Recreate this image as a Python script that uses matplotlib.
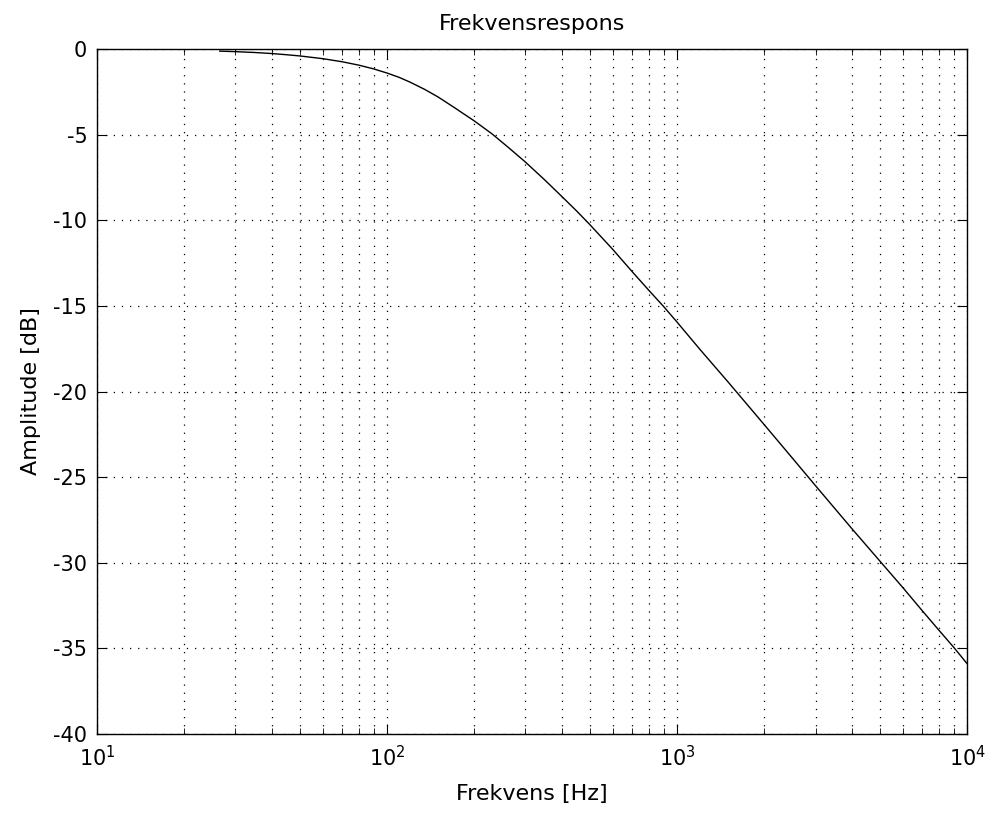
import matplotlib
matplotlib.use('Agg')
import matplotlib.pyplot as plt
import numpy as np

# frequency response
freq = [26.5, 30, 35, 40, 45, 50, 60, 70, 80, 90, 100, 110, 120, 135, 150, 170,
        200, 230, 260, 300, 350, 400, 450, 500, 600, 700, 800, 900, 1000, 1200,
        1500, 2000, 2500, 3000, 4000, 5000, 6000, 7000, 8000, 9000, 10000]
amp_db = [-0.12, -0.15, -0.2, -0.26, -0.33, -0.4, -0.56, -0.74, -0.94, -1.16,
          -1.4, -1.65, -1.93, -2.36, -2.8, -3.4, -4.2, -4.95, -5.7, -6.6, -7.65,
          -8.6, -9.45, -10.25, -11.7, -13.0, -14.1, -15.05, -15.95, -17.55, -19.45,
          -21.95, -23.9, -25.5, -28.0, -29.9, -31.45, -32.8, -33.95, -34.95, -35.9]
yticks = [-40, -35, -30, -25, -20, -15, -10, -5, 0]

plt.rcParams['font.family'] = ['DejaVu Sans']
plt.rcParams['axes.unicode_minus'] = False

fig = plt.figure(figsize=(9.93, 8.18), dpi=100)
ax = fig.add_axes([0.0977, 0.1027, 0.8763, 0.8373])

ax.semilogx(freq, amp_db, color='black', linewidth=1.0)
ax.set_xlim(10, 1e4)
ax.set_ylim(-40, 0)
ax.set_yticks(yticks)

dots = (0, (1, 5.5))
ax.grid(True, which='major', linestyle=dots, color='black', linewidth=0.9)
ax.grid(True, which='minor', axis='x', linestyle=dots, color='black', linewidth=0.9)

ax.tick_params(which='both', direction='in', top=True, right=True, labelsize=15)
ax.tick_params(which='major', length=7)
ax.tick_params(which='minor', length=4)
ax.tick_params(axis='y', pad=7)
ax.tick_params(axis='x', pad=8)
for s in ax.spines.values():
    s.set_linewidth(1.0)

ax.set_title('Frekvensrespons', fontsize=16, pad=14)
ax.set_xlabel('Frekvens [Hz]', fontsize=16, labelpad=10)
ax.set_ylabel('Amplitude [dB]', fontsize=16, labelpad=9)

fig.savefig('out.png', dpi=100)
